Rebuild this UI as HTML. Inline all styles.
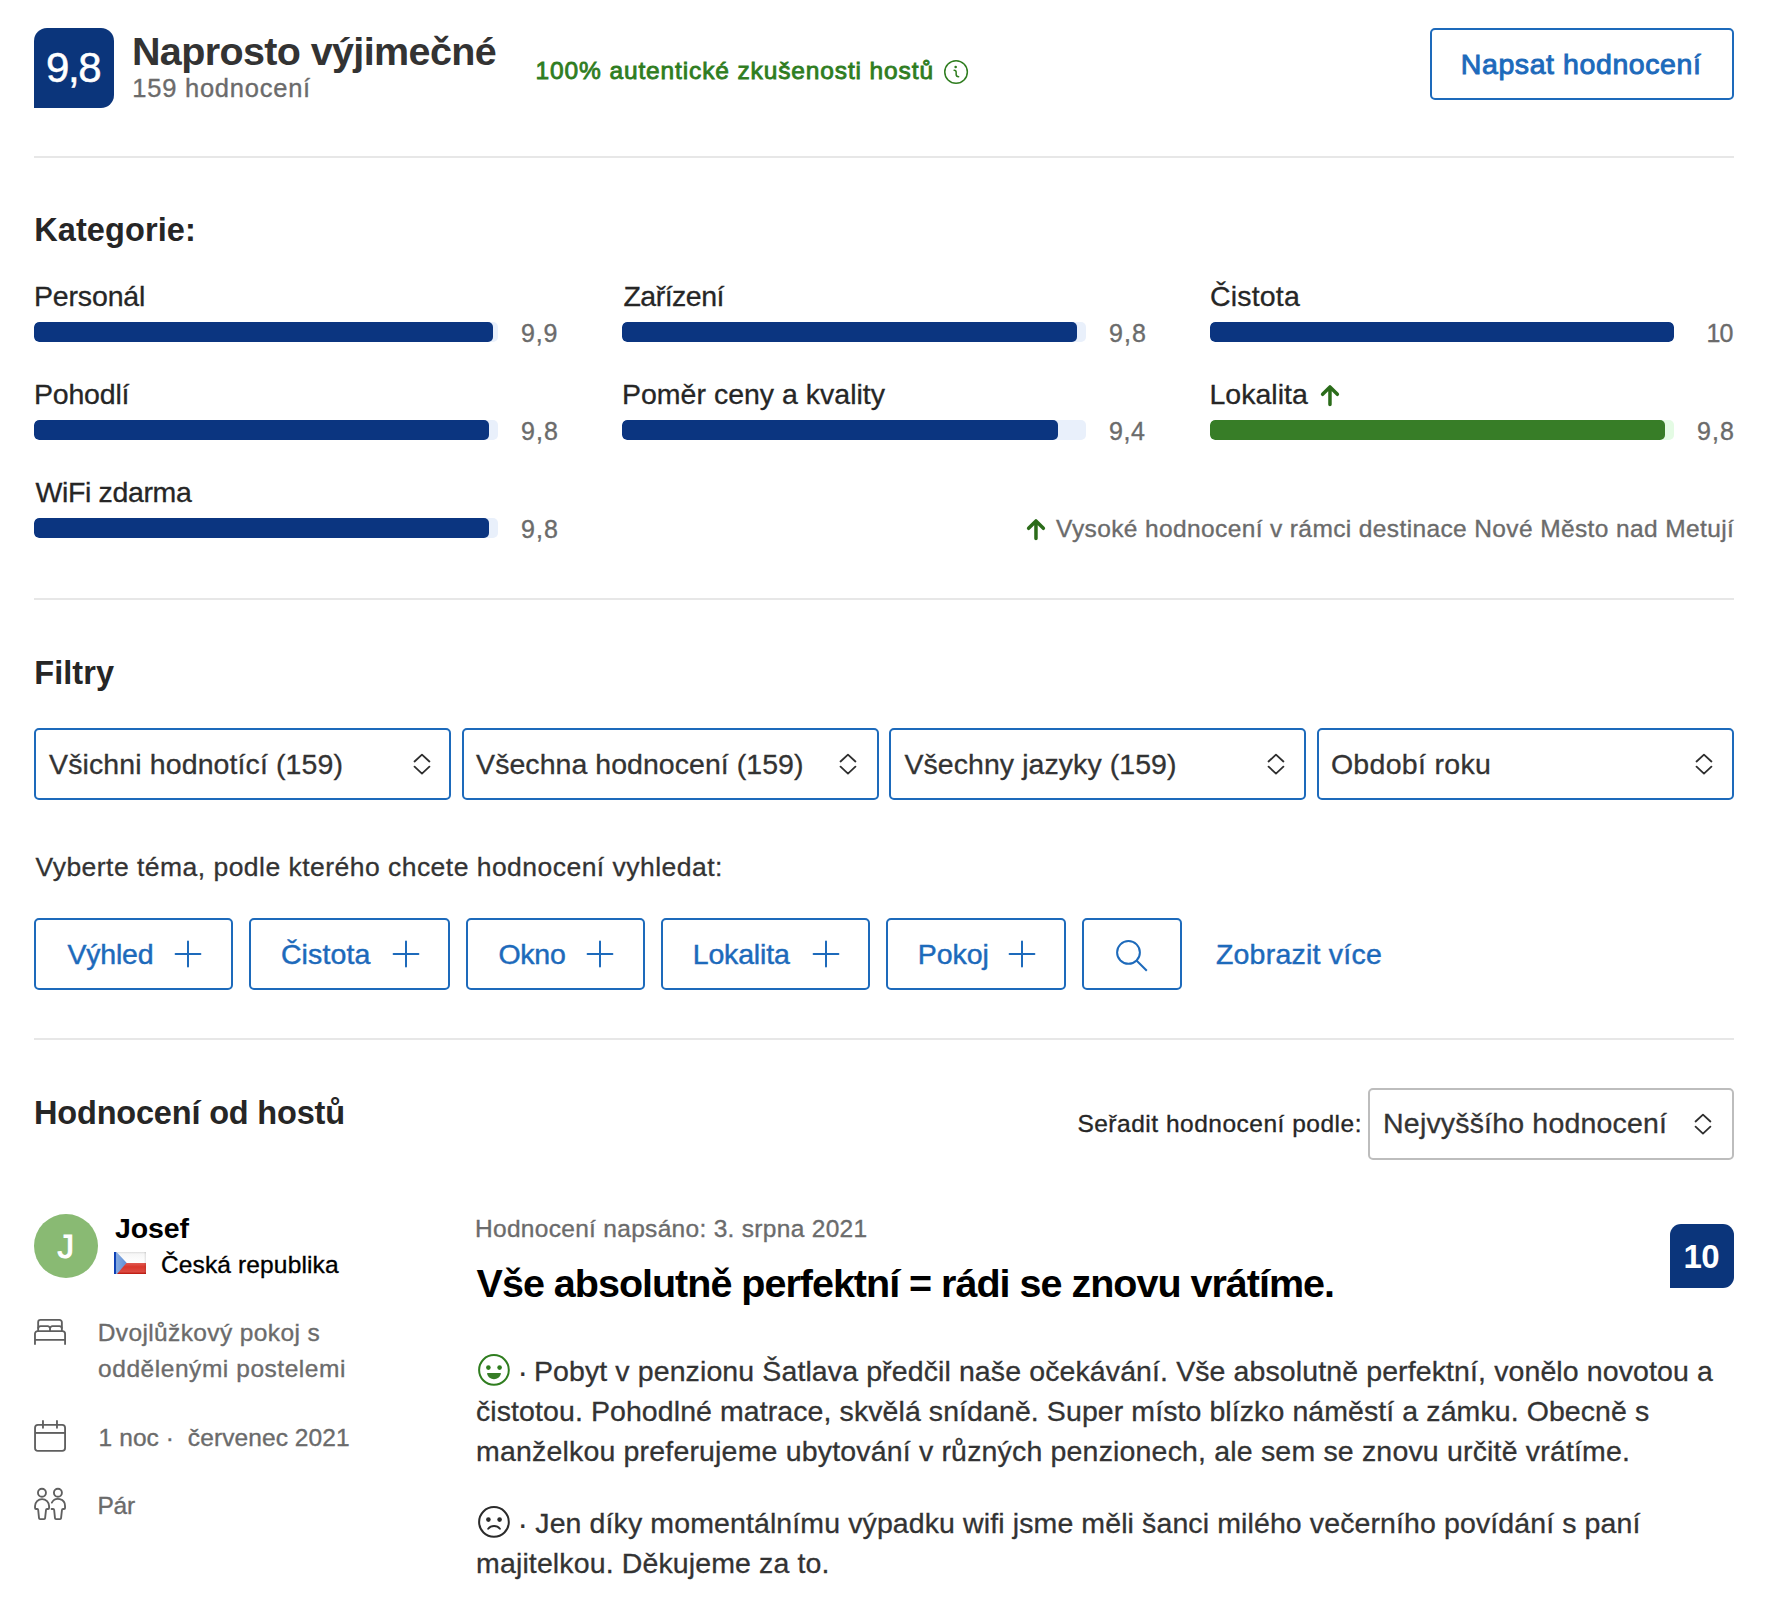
<!DOCTYPE html>
<html lang="cs">
<head>
<meta charset="utf-8">
<title>Hodnocení hostů</title>
<style>
*{box-sizing:border-box;margin:0;padding:0}
html,body{width:1778px;height:1622px;background:#fff;overflow:hidden}
body{position:relative;font-family:"Liberation Sans",sans-serif;color:#262626}
.a{position:absolute;white-space:nowrap;line-height:1}
.s{position:absolute;display:block;overflow:visible}
.hr{position:absolute;left:34px;width:1700px;height:2px;background:#e7e7e7}
.badge{position:absolute;background:#0b357b}
.bar{position:absolute;height:20px;width:464px;border-radius:5px;background:#e9f0fb;overflow:hidden}
.bar i{display:block;height:20px;background:#0b3580;border-radius:5px}
.bar.g{background:#e4fbe4}
.bar.g i{background:#377d27}
.box{position:absolute;border:2px solid #1d6abb;border-radius:5px;background:#fff}
</style>
</head>
<body>

<!-- header shapes -->
<div class="badge" style="left:34px;top:28px;width:80px;height:80px;border-radius:13px 13px 13px 0"></div>
<svg class="s" style="left:943px;top:59px" width="26" height="26" viewBox="0 0 26 26"><circle cx="13.05" cy="13" r="11.3" fill="none" stroke="#2f7d1f" stroke-width="1.5"/><circle cx="12.65" cy="7.94" r="1.3" fill="#2f7d1f"/><path d="M11.1 11.25c1.2 0 2.05.8 2.05 2V15.5c0 1.4.9 2.2 2.5 2.2" fill="none" stroke="#2f7d1f" stroke-width="1.5" stroke-linecap="round"/></svg>
<div class="box" style="left:1430px;top:28px;width:304px;height:72px"></div>
<div class="hr" style="top:156px"></div>

<!-- category bars -->
<div class="bar" style="left:34px;top:322px"><i style="width:459px"></i></div>
<div class="bar" style="left:622px;top:322px"><i style="width:455px"></i></div>
<div class="bar" style="left:1210px;top:322px"><i style="width:464px"></i></div>
<div class="bar" style="left:34px;top:420px"><i style="width:455px"></i></div>
<div class="bar" style="left:622px;top:420px"><i style="width:436px"></i></div>
<div class="bar g" style="left:1210px;top:420px"><i style="width:455px"></i></div>
<div class="bar" style="left:34px;top:518px"><i style="width:455px"></i></div>
<svg class="s" style="left:1318px;top:383px" width="24" height="26" viewBox="0 0 24 26"><path d="M11.97 21.6V4.2M4.6 11.3L11.97 3.9L19.37 11.3" fill="none" stroke="#2b6c1a" stroke-width="3.5" stroke-linecap="round" stroke-linejoin="round"/></svg>
<svg class="s" style="left:1024.03px;top:517px" width="24" height="26" viewBox="0 0 24 26"><path d="M11.97 21.6V4.2M4.6 11.3L11.97 3.9L19.37 11.3" fill="none" stroke="#2b6c1a" stroke-width="3.5" stroke-linecap="round" stroke-linejoin="round"/></svg>
<div class="hr" style="top:598px"></div>

<!-- filter selects -->
<div class="box" style="left:34px;top:728px;width:417px;height:72px"></div>
<div class="box" style="left:462px;top:728px;width:417px;height:72px"></div>
<div class="box" style="left:889px;top:728px;width:417px;height:72px"></div>
<div class="box" style="left:1317px;top:728px;width:417px;height:72px"></div>
<svg class="s" style="left:410.98px;top:751px" width="22" height="28" viewBox="0 0 22 28"><path d="M3.55 10.5L10.97 3.66L18.4 10.5M3.55 15.64L10.97 22.55L18.4 15.64" fill="none" stroke="#2e2e2e" stroke-width="1.8" stroke-linecap="round" stroke-linejoin="round"/></svg>
<svg class="s" style="left:836.98px;top:751px" width="22" height="28" viewBox="0 0 22 28"><path d="M3.55 10.5L10.97 3.66L18.4 10.5M3.55 15.64L10.97 22.55L18.4 15.64" fill="none" stroke="#2e2e2e" stroke-width="1.8" stroke-linecap="round" stroke-linejoin="round"/></svg>
<svg class="s" style="left:1265.03px;top:751px" width="22" height="28" viewBox="0 0 22 28"><path d="M3.55 10.5L10.97 3.66L18.4 10.5M3.55 15.64L10.97 22.55L18.4 15.64" fill="none" stroke="#2e2e2e" stroke-width="1.8" stroke-linecap="round" stroke-linejoin="round"/></svg>
<svg class="s" style="left:1693.03px;top:751px" width="22" height="28" viewBox="0 0 22 28"><path d="M3.55 10.5L10.97 3.66L18.4 10.5M3.55 15.64L10.97 22.55L18.4 15.64" fill="none" stroke="#2e2e2e" stroke-width="1.8" stroke-linecap="round" stroke-linejoin="round"/></svg>

<!-- topic chips -->
<div class="box" style="left:34px;top:918px;width:199px;height:72px"></div>
<div class="box" style="left:249px;top:918px;width:201px;height:72px"></div>
<div class="box" style="left:466px;top:918px;width:179px;height:72px"></div>
<div class="box" style="left:661px;top:918px;width:209px;height:72px"></div>
<div class="box" style="left:886px;top:918px;width:180px;height:72px"></div>
<div class="box" style="left:1082px;top:918px;width:100px;height:72px"></div>
<svg class="s" style="left:173.00px;top:938.9px" width="30" height="30" viewBox="0 0 30 30"><path d="M15 2.6V27.4M2.6 15H27.4" fill="none" stroke="#1d6abb" stroke-width="2" stroke-linecap="round"/></svg>
<svg class="s" style="left:391.00px;top:938.9px" width="30" height="30" viewBox="0 0 30 30"><path d="M15 2.6V27.4M2.6 15H27.4" fill="none" stroke="#1d6abb" stroke-width="2" stroke-linecap="round"/></svg>
<svg class="s" style="left:585.00px;top:938.9px" width="30" height="30" viewBox="0 0 30 30"><path d="M15 2.6V27.4M2.6 15H27.4" fill="none" stroke="#1d6abb" stroke-width="2" stroke-linecap="round"/></svg>
<svg class="s" style="left:811.00px;top:938.9px" width="30" height="30" viewBox="0 0 30 30"><path d="M15 2.6V27.4M2.6 15H27.4" fill="none" stroke="#1d6abb" stroke-width="2" stroke-linecap="round"/></svg>
<svg class="s" style="left:1007.00px;top:938.9px" width="30" height="30" viewBox="0 0 30 30"><path d="M15 2.6V27.4M2.6 15H27.4" fill="none" stroke="#1d6abb" stroke-width="2" stroke-linecap="round"/></svg>
<svg class="s" style="left:1114px;top:938px" width="36" height="36" viewBox="0 0 36 36"><circle cx="14.49" cy="14.43" r="11.4" fill="none" stroke="#1d6abb" stroke-width="2"/><path d="M22.5 22.45L32.8 32.75" stroke="#1d6abb" stroke-width="2" fill="none"/></svg>
<div class="hr" style="top:1038px"></div>

<!-- sort select -->
<div class="box" style="left:1368px;top:1088px;width:366px;height:72px;border-color:#bdbdbd"></div>
<svg class="s" style="left:1692.03px;top:1110.5px" width="22" height="28" viewBox="0 0 22 28"><path d="M3.55 10.5L10.97 3.66L18.4 10.5M3.55 15.64L10.97 22.55L18.4 15.64" fill="none" stroke="#2e2e2e" stroke-width="1.8" stroke-linecap="round" stroke-linejoin="round"/></svg>

<!-- reviewer -->
<div class="s" style="left:34px;top:1214px;width:64px;height:64px;border-radius:50%;background:#89ba73"></div>
<svg class="s" style="left:114px;top:1252px" width="32" height="22" viewBox="0 0 32 22">
<defs>
<linearGradient id="fw" x1="0" y1="0" x2="0" y2="1"><stop offset="0" stop-color="#dcdcdc"/><stop offset=".18" stop-color="#f6f6f6"/><stop offset="1" stop-color="#ffffff"/></linearGradient>
<linearGradient id="fr" x1="0" y1="0" x2="0" y2="1"><stop offset="0" stop-color="#e05a52"/><stop offset=".35" stop-color="#d9372c"/><stop offset=".8" stop-color="#dc4a41"/><stop offset="1" stop-color="#b8140a"/></linearGradient>
<linearGradient id="fb" x1="0" y1="0" x2="1" y2="0"><stop offset="0" stop-color="#0a3cb4"/><stop offset=".16" stop-color="#1247b8"/><stop offset=".2" stop-color="#86aadf"/><stop offset="1" stop-color="#5f8fd6"/></linearGradient>
</defs>
<rect width="32" height="11" fill="url(#fw)"/><rect y="11" width="32" height="11" fill="url(#fr)"/><path d="M0 0H2.5L12.6 10.8L3 22H0z" fill="url(#fb)"/><rect x="30.6" width="1.4" height="22" fill="#000" opacity=".08"/>
</svg>
<div class="badge" style="left:1670px;top:1224px;width:64px;height:64px;border-radius:11px 11px 11px 0"></div>

<!-- stay details icons -->
<svg class="s" style="left:32px;top:1316px" width="36" height="32" viewBox="0 0 36 32" fill="none" stroke="#5f5f5f" stroke-width="1.85">
<path d="M6.16 15V6.3a2.4 2.4 0 0 1 2.4-2.4H27.47a2.4 2.4 0 0 1 2.4 2.4V15"/>
<path d="M6.16 12.5a2.4 2.4 0 0 1 2.4-2.4H15.6a2.4 2.4 0 0 1 2.42 2.4V15M18.02 12.5a2.4 2.4 0 0 1 2.42-2.4H27.47a2.4 2.4 0 0 1 2.4 2.4"/>
<path d="M2.97 28.8V17.8a2.7 2.7 0 0 1 2.7-2.7H30.37a2.7 2.7 0 0 1 2.7 2.7V28.8M2.97 23.8H33.07"/>
</svg>
<svg class="s" style="left:32px;top:1418px" width="36" height="36" viewBox="0 0 36 36" fill="none" stroke="#5f5f5f" stroke-width="1.85">
<rect x="3.04" y="6.9" width="30.03" height="26" rx="2.9"/><path d="M3.04 14.95H33.07"/><path d="M10.97 3V9.8M24.97 3V9.8" stroke-linecap="round"/>
</svg>
<svg class="s" style="left:32px;top:1486px" width="36" height="36" viewBox="0 0 36 36" fill="none" stroke="#5f5f5f" stroke-width="1.85" stroke-linecap="round" stroke-linejoin="round">
<circle cx="9.96" cy="6.75" r="4"/><circle cx="25.92" cy="6.75" r="4"/>
<path d="M5.2 23H4.1a1.06 1.06 0 0 1-1.06-1.06V20.1a7.02 7.02 0 0 1 14.04 0v1.84A1.06 1.06 0 0 1 16.02 23H15.1a1.1 1.1 0 0 0-1.1 1L13.1 32.2a1.05 1.05 0 0 1-1.04.95H8.06a1.05 1.05 0 0 1-1.04-.95L6.2 24a1.1 1.1 0 0 0-1-1z"/>
<path d="M19.84 16.6A7.02 7.02 0 0 1 33.04 20.1v1.84A1.06 1.06 0 0 1 31.98 23H31.06a1.1 1.1 0 0 0-1.1 1L29.06 32.2a1.05 1.05 0 0 1-1.04.95H24.02a1.05 1.05 0 0 1-1.04-.95L22.16 24a1.1 1.1 0 0 0-1.1-1H19.6"/>
</svg>

<!-- review faces -->
<svg class="s" style="left:477px;top:1353px" width="34" height="34" viewBox="0 0 34 34"><circle cx="16.96" cy="16.96" r="14.85" fill="none" stroke="#2f7d1f" stroke-width="2"/><circle cx="11.4" cy="14.6" r="2.3" fill="#2f7d1f"/><circle cx="22.6" cy="14.6" r="2.3" fill="#2f7d1f"/><path d="M10.7 20H23.3a.6.6 0 0 1 .6.75C23.1 24 20.3 26.2 17 26.2S10.9 24 10.1 20.75A.6.6 0 0 1 10.7 20z" fill="#377d27"/></svg>
<svg class="s" style="left:477px;top:1505px" width="34" height="34" viewBox="0 0 34 34"><circle cx="16.96" cy="16.96" r="14.85" fill="none" stroke="#2b2b2b" stroke-width="2"/><circle cx="11.4" cy="14.6" r="2.3" fill="#2b2b2b"/><circle cx="22.6" cy="14.6" r="2.3" fill="#2b2b2b"/><path d="M11.2 23.75A7.45 7.45 0 0 1 22.9 23.75" fill="none" stroke="#2b2b2b" stroke-width="2" stroke-linecap="round"/></svg>

<!-- text -->
<div class="a" style="left:46.00px;top:47.05px;font-size:42px;letter-spacing:-1.364px;color:#ffffff;-webkit-text-stroke:0.5px #ffffff">9,8</div>
<div class="a" style="left:131.90px;top:32.26px;font-size:39.5px;letter-spacing:-0.619px;color:#333333;font-weight:bold">Naprosto výjimečné</div>
<div class="a" style="left:132.30px;top:76.21px;font-size:25.5px;letter-spacing:0.762px;color:#6b6b6b;-webkit-text-stroke:0.35px #6b6b6b">159 hodnocení</div>
<div class="a" style="left:535.60px;top:59.06px;font-size:24.5px;letter-spacing:0.870px;color:#2f7d1f;-webkit-text-stroke:0.85px #2f7d1f">100% autentické zkušenosti hostů</div>
<div class="a" style="left:1460.80px;top:49.87px;font-size:28.5px;letter-spacing:0.585px;color:#1d6abb;-webkit-text-stroke:0.95px #1d6abb">Napsat hodnocení</div>
<div class="a" style="left:34.20px;top:214.39px;font-size:32.5px;letter-spacing:0.100px;color:#262626;font-weight:bold">Kategorie:</div>
<div class="a" style="left:34.00px;top:281.77px;font-size:28.5px;letter-spacing:-0.164px;color:#262626;-webkit-text-stroke:0.3px #262626">Personál</div>
<div class="a" style="left:623.40px;top:281.77px;font-size:28.5px;letter-spacing:-0.503px;color:#262626;-webkit-text-stroke:0.3px #262626">Zařízení</div>
<div class="a" style="left:1209.90px;top:281.77px;font-size:28.5px;letter-spacing:0.208px;color:#262626;-webkit-text-stroke:0.3px #262626">Čistota</div>
<div class="a" style="left:34.00px;top:379.77px;font-size:28.5px;letter-spacing:-0.207px;color:#262626;-webkit-text-stroke:0.3px #262626">Pohodlí</div>
<div class="a" style="left:622.00px;top:379.77px;font-size:28.5px;letter-spacing:0.006px;color:#262626;-webkit-text-stroke:0.3px #262626">Poměr ceny a kvality</div>
<div class="a" style="left:1209.50px;top:379.77px;font-size:28.5px;letter-spacing:0.017px;color:#262626;-webkit-text-stroke:0.3px #262626">Lokalita</div>
<div class="a" style="left:35.40px;top:477.77px;font-size:28.5px;letter-spacing:-0.347px;color:#262626;-webkit-text-stroke:0.3px #262626">WiFi zdarma</div>
<div class="a" style="left:520.90px;top:321.24px;font-size:25px;letter-spacing:0.875px;color:#6b6b6b;-webkit-text-stroke:0.35px #6b6b6b">9,9</div>
<div class="a" style="left:1108.90px;top:321.24px;font-size:25px;letter-spacing:1.125px;color:#6b6b6b;-webkit-text-stroke:0.35px #6b6b6b">9,8</div>
<div class="a" style="left:1706.40px;top:321.24px;font-size:25px;letter-spacing:-0.804px;color:#6b6b6b;-webkit-text-stroke:0.35px #6b6b6b">10</div>
<div class="a" style="left:520.90px;top:419.24px;font-size:25px;letter-spacing:1.125px;color:#6b6b6b;-webkit-text-stroke:0.35px #6b6b6b">9,8</div>
<div class="a" style="left:1108.90px;top:419.24px;font-size:25px;letter-spacing:0.625px;color:#6b6b6b;-webkit-text-stroke:0.35px #6b6b6b">9,4</div>
<div class="a" style="left:1696.90px;top:419.24px;font-size:25px;letter-spacing:1.125px;color:#6b6b6b;-webkit-text-stroke:0.35px #6b6b6b">9,8</div>
<div class="a" style="left:520.90px;top:517.24px;font-size:25px;letter-spacing:1.125px;color:#6b6b6b;-webkit-text-stroke:0.35px #6b6b6b">9,8</div>
<div class="a" style="left:1056.10px;top:517.06px;font-size:24.5px;letter-spacing:0.379px;color:#6b6b6b;-webkit-text-stroke:0.35px #6b6b6b">Vysoké hodnocení v rámci destinace Nové Město nad Metují</div>
<div class="a" style="left:34.30px;top:656.59px;font-size:32.5px;letter-spacing:0.044px;color:#262626;font-weight:bold">Filtry</div>
<div class="a" style="left:49.10px;top:749.67px;font-size:28.5px;letter-spacing:0.109px;color:#333333;-webkit-text-stroke:0.3px #333333">Všichni hodnotící (159)</div>
<div class="a" style="left:476.10px;top:749.67px;font-size:28.5px;letter-spacing:0.045px;color:#333333;-webkit-text-stroke:0.3px #333333">Všechna hodnocení (159)</div>
<div class="a" style="left:904.40px;top:749.67px;font-size:28.5px;letter-spacing:0.065px;color:#333333;-webkit-text-stroke:0.3px #333333">Všechny jazyky (159)</div>
<div class="a" style="left:1330.90px;top:749.67px;font-size:28.5px;letter-spacing:0.310px;color:#333333;-webkit-text-stroke:0.3px #333333">Období roku</div>
<div class="a" style="left:35.50px;top:853.57px;font-size:26.5px;letter-spacing:0.470px;color:#333333;-webkit-text-stroke:0.3px #333333">Vyberte téma, podle kterého chcete hodnocení vyhledat:</div>
<div class="a" style="left:67.40px;top:939.97px;font-size:28.5px;letter-spacing:-0.178px;color:#1d6abb;-webkit-text-stroke:0.45px #1d6abb">Výhled</div>
<div class="a" style="left:280.90px;top:939.97px;font-size:28.5px;letter-spacing:0.125px;color:#1d6abb;-webkit-text-stroke:0.45px #1d6abb">Čistota</div>
<div class="a" style="left:498.40px;top:939.97px;font-size:28.5px;letter-spacing:-0.223px;color:#1d6abb;-webkit-text-stroke:0.45px #1d6abb">Okno</div>
<div class="a" style="left:692.70px;top:939.97px;font-size:28.5px;letter-spacing:-0.155px;color:#1d6abb;-webkit-text-stroke:0.45px #1d6abb">Lokalita</div>
<div class="a" style="left:917.70px;top:939.97px;font-size:28.5px;letter-spacing:-0.040px;color:#1d6abb;-webkit-text-stroke:0.45px #1d6abb">Pokoj</div>
<div class="a" style="left:1215.90px;top:939.97px;font-size:28.5px;letter-spacing:0.234px;color:#1d6abb;-webkit-text-stroke:0.45px #1d6abb">Zobrazit více</div>
<div class="a" style="left:34.00px;top:1096.59px;font-size:32.5px;letter-spacing:-0.181px;color:#262626;font-weight:bold">Hodnocení od hostů</div>
<div class="a" style="left:1077.40px;top:1111.56px;font-size:24.5px;letter-spacing:0.508px;color:#262626;-webkit-text-stroke:0.35px #262626">Seřadit hodnocení podle:</div>
<div class="a" style="left:1383.10px;top:1109.47px;font-size:28.5px;letter-spacing:0.179px;color:#333333;-webkit-text-stroke:0.3px #333333">Nejvyššího hodnocení</div>
<div class="a" style="left:57.40px;top:1230.37px;font-size:33px;letter-spacing:0.000px;color:#ffffff;-webkit-text-stroke:1.1px #ffffff">J</div>
<div class="a" style="left:115.10px;top:1213.77px;font-size:28.5px;letter-spacing:-0.140px;color:#000000;font-weight:bold">Josef</div>
<div class="a" style="left:160.90px;top:1252.86px;font-size:24.5px;letter-spacing:0.146px;color:#000000;-webkit-text-stroke:0.35px #000000">Česká republika</div>
<div class="a" style="left:97.70px;top:1321.06px;font-size:24.5px;letter-spacing:0.384px;color:#6b6b6b;-webkit-text-stroke:0.35px #6b6b6b">Dvojlůžkový pokoj s</div>
<div class="a" style="left:98.10px;top:1357.26px;font-size:24.5px;letter-spacing:0.546px;color:#6b6b6b;-webkit-text-stroke:0.35px #6b6b6b">oddělenými postelemi</div>
<div class="a" style="left:98.60px;top:1425.76px;font-size:24.5px;letter-spacing:0.085px;color:#6b6b6b;-webkit-text-stroke:0.35px #6b6b6b">1 noc ·&nbsp; červenec 2021</div>
<div class="a" style="left:97.50px;top:1493.86px;font-size:24.5px;letter-spacing:-0.284px;color:#6b6b6b;-webkit-text-stroke:0.35px #6b6b6b">Pár</div>
<div class="a" style="left:475.00px;top:1217.11px;font-size:24.5px;letter-spacing:0.302px;color:#6b6b6b;-webkit-text-stroke:0.35px #6b6b6b">Hodnocení napsáno: 3. srpna 2021</div>
<div class="a" style="left:476.60px;top:1264.16px;font-size:39.5px;letter-spacing:-1.003px;color:#000000;font-weight:bold">Vše absolutně perfektní = rádi se znovu vrátíme.</div>
<div class="a" style="left:1683.40px;top:1240.07px;font-size:33px;letter-spacing:-0.453px;color:#ffffff;font-weight:bold">10</div>
<div class="a" style="left:517.30px;top:1354.67px;font-size:33px;letter-spacing:0.000px;color:#333333">·</div>
<div class="a" style="left:533.90px;top:1357.37px;font-size:28.5px;letter-spacing:0.109px;color:#333333;-webkit-text-stroke:0.3px #333333">Pobyt v penzionu Šatlava předčil naše očekávání. Vše absolutně perfektní, vonělo novotou a</div>
<div class="a" style="left:476.00px;top:1397.17px;font-size:28.5px;letter-spacing:0.084px;color:#333333;-webkit-text-stroke:0.3px #333333">čistotou. Pohodlné matrace, skvělá snídaně. Super místo blízko náměstí a zámku. Obecně s</div>
<div class="a" style="left:476.10px;top:1437.17px;font-size:28.5px;letter-spacing:0.175px;color:#333333;-webkit-text-stroke:0.3px #333333">manželkou preferujeme ubytování v různých penzionech, ale sem se znovu určitě vrátíme.</div>
<div class="a" style="left:517.30px;top:1506.67px;font-size:33px;letter-spacing:0.000px;color:#333333">·</div>
<div class="a" style="left:535.30px;top:1509.37px;font-size:28.5px;letter-spacing:0.109px;color:#333333;-webkit-text-stroke:0.3px #333333">Jen díky momentálnímu výpadku wifi jsme měli šanci milého večerního povídání s paní</div>
<div class="a" style="left:476.10px;top:1549.37px;font-size:28.5px;letter-spacing:0.125px;color:#333333;-webkit-text-stroke:0.3px #333333">majitelkou. Děkujeme za to.</div>

</body>
</html>
